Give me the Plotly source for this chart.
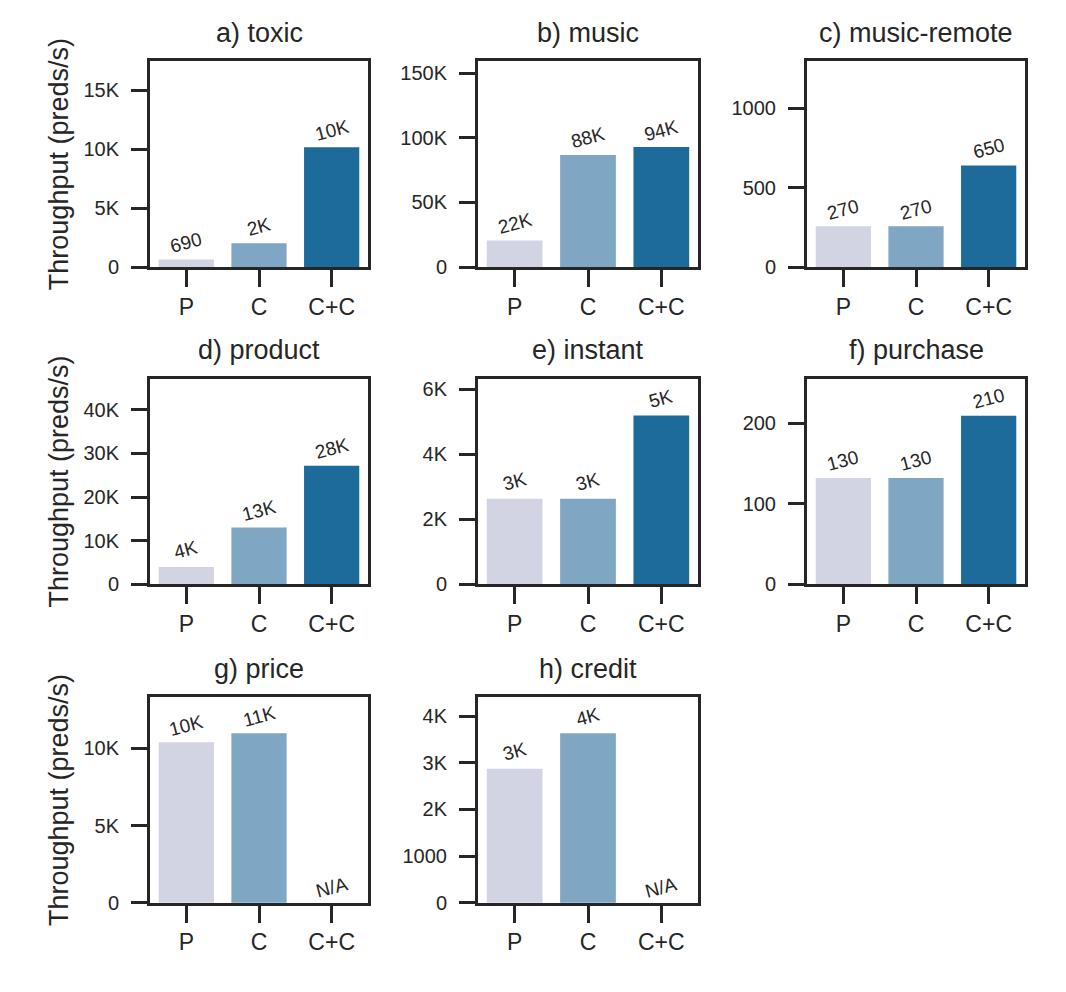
import plotly.graph_objects as go

W, H = 1066, 992

categories = ["P", "C", "C+C"]
titles = ["a) toxic", "b) music", "c) music-remote",
          "d) product", "e) instant", "f) purchase",
          "g) price", "h) credit"]

# throughput values (preds/s)
toxic = [640, 2020, 10180]
music = [20500, 86700, 92800]
music_remote = [256, 256, 639]
product = [4000, 13050, 27200]
instant = [2630, 2630, 5190]
purchase = [132, 132, 209]
price = [10380, 10960, None]
credit = [2870, 3630, None]
series = [toxic, music, music_remote, product, instant, purchase, price, credit]

# bar annotations as printed
toxic_labels = ["690", "2K", "10K"]
music_labels = ["22K", "88K", "94K"]
music_remote_labels = ["270", "270", "650"]
product_labels = ["4K", "13K", "28K"]
instant_labels = ["3K", "3K", "5K"]
purchase_labels = ["130", "130", "210"]
price_labels = ["10K", "11K", "N/A"]
credit_labels = ["3K", "4K", "N/A"]
bar_labels = [toxic_labels, music_labels, music_remote_labels, product_labels,
              instant_labels, purchase_labels, price_labels, credit_labels]

# y axis ticks
tick_vals = [[0, 5000, 10000, 15000],
             [0, 50000, 100000, 150000],
             [0, 500, 1000],
             [0, 10000, 20000, 30000, 40000],
             [0, 2000, 4000, 6000],
             [0, 100, 200],
             [0, 5000, 10000],
             [0, 1000, 2000, 3000, 4000]]
tick_text = [["0", "5K", "10K", "15K"],
             ["0", "50K", "100K", "150K"],
             ["0", "500", "1000"],
             ["0", "10K", "20K", "30K", "40K"],
             ["0", "2K", "4K", "6K"],
             ["0", "100", "200"],
             ["0", "5K", "10K"],
             ["0", "1000", "2K", "3K", "4K"]]
y_max = [17480, 159200, 1296, 47100, 6320, 255, 13300, 4404]

colors = ["#d3d4e3", "#7fa7c3", "#1c6b9a"]
ink = "#262626"
FONT = "Liberation Sans, Arial, Helvetica, sans-serif"

col_px = [(150, 368), (478, 698), (807, 1025)]
row_px = [(62, 270), (383, 591), (705, 913)]

fig = go.Figure()
annotations = []

for i, vals in enumerate(series):
    r, c = divmod(i, 3)
    n = "" if i == 0 else str(i + 1)
    x0, x1 = col_px[c]
    y0, y1 = row_px[r]
    xd = [x0 / W, x1 / W]
    yd = [1 - y1 / H, 1 - y0 / H]
    fig.add_trace(go.Bar(
        x=categories, y=vals, marker=dict(color=colors, line=dict(width=0)),
        width=0.76, xaxis="x" + n, yaxis="y" + n, showlegend=False,
        hoverinfo="skip"))
    fig.update_layout(**{
        "xaxis" + n: dict(
            domain=xd, anchor="y" + n, type="category", range=[-0.5, 2.5],
            showline=True, mirror=True, linecolor=ink, linewidth=3,
            ticks="outside", ticklen=17, tickwidth=3, tickcolor=ink,
            tickfont=dict(size=23, color=ink, family=FONT),
            ticklabelstandoff=0, showgrid=False, zeroline=False,
            fixedrange=True),
        "yaxis" + n: dict(
            domain=yd, anchor="x" + n, range=[0, y_max[i]],
            tickmode="array", tickvals=tick_vals[i], ticktext=tick_text[i],
            showline=True, mirror=True, linecolor=ink, linewidth=3,
            ticks="outside", ticklen=16, tickwidth=3, tickcolor=ink,
            tickfont=dict(size=20, color=ink, family=FONT),
            ticklabelstandoff=8, showgrid=False, zeroline=False,
            fixedrange=True),
    })
    # subplot title
    annotations.append(dict(
        text=titles[i], x=(x0 + x1) / 2 / W, y=1 - (y0 - 29) / H,
        xref="paper", yref="paper", xanchor="center", yanchor="middle",
        showarrow=False, font=dict(size=27, color=ink, family=FONT)))
    # bar labels
    for j, cat in enumerate(categories):
        v = vals[j]
        annotations.append(dict(
            text=bar_labels[i][j], x=cat, y=(v if v is not None else 0),
            xref="x" + n, yref="y" + n, xanchor="center", yanchor="middle",
            yshift=(17 if v is not None else 15), textangle=-15,
            showarrow=False, font=dict(size=19, color=ink, family=FONT)))

# row y-axis titles
for r in range(3):
    y0, y1 = row_px[r]
    annotations.append(dict(
        text="Throughput (preds/s)", x=59 / W, y=1 - (y0 + y1) / 2 / H,
        xref="paper", yref="paper", xanchor="center", yanchor="middle",
        textangle=-90, showarrow=False,
        font=dict(size=27, color=ink, family=FONT)))

fig.update_layout(
    width=W, height=H, margin=dict(l=0, r=0, t=0, b=0),
    paper_bgcolor="white", plot_bgcolor="white",
    font=dict(family=FONT, color=ink),
    annotations=annotations, bargap=0.2)

fig.write_html("out.html",
               config={"displayModeBar": False},
               post_script="document.body.style.margin='0';")
